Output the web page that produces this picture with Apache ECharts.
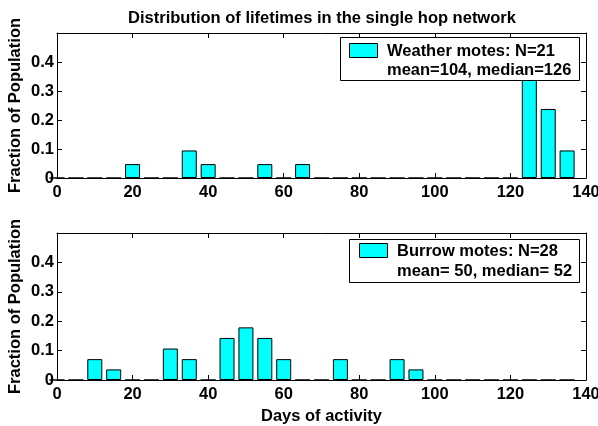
<!DOCTYPE html>
<html><head><meta charset="utf-8">
<script src="https://cdn.jsdelivr.net/npm/echarts@6/dist/echarts.min.js"></script>
<style>html,body{margin:0;padding:0;background:#fff}#c{width:598px;height:426px}</style>
</head><body><div id="c"></div>
<script>
// Bin centres (days of activity); the axis runs 0..140
const days = ['0','5','10','15','20','25','30','35','40','45','50','55','60','65','70','75','80','85','90','95','100','105','110','115','120','125','130','135','140'];
// Weather motes: fraction of population per bin (N=21); no bin at 140
const weatherFrac = [0,0,0,0,0.048,0,0,0.095,0.048,0,0,0.048,0,0.048,0,0,0,0,0,0,0,0,0,0,0,0.381,0.238,0.095,null];
// Burrow motes: fraction of population per bin (N=28); no bin at 140
const burrowFrac = [0,0,0.071,0.036,0,0,0.107,0.071,0,0.143,0.179,0.143,0.071,0,0,0.071,0,0,0.071,0.036,0,0,0,0,0,0,0,0,null];
const titleText = 'Distribution of lifetimes in the single hop network';
const yName = 'Fraction of Population';
const xName = 'Days of activity';
const legendWeather = ['Weather motes: N=21', 'mean=104, median=126'];
const legendBurrow = ['Burrow motes: N=28', 'mean= 50, median= 52'];

const FONT = "'Liberation Sans', Arial, Helvetica, sans-serif";
const FS = 16.5;
const chart = echarts.init(document.getElementById('c'));

function xAx(gi, main, withName) {
  return {
    type: 'value', gridIndex: gi, min: 0, max: 140, interval: 20,
    position: main ? 'bottom' : 'top',
    axisLine: {show: true, onZero: false, lineStyle: {color: '#000', width: 1}},
    axisTick: {show: true, inside: true, length: 5, lineStyle: {color: '#000'}},
    axisLabel: {show: main, color: '#000', fontFamily: FONT, fontWeight: 'bold', fontSize: FS, margin: 6},
    splitLine: {show: false},
    name: withName ? xName : '', nameLocation: 'middle', nameGap: 28, nameMoveOverlap: false,
    nameTextStyle: {color: '#000', fontFamily: FONT, fontWeight: 'bold', fontSize: FS}
  };
}
function xCat(gi) {
  return {
    type: 'category', gridIndex: gi, data: days, boundaryGap: false, show: false,
    position: 'bottom'
  };
}
function yAx(gi, main) {
  return {
    type: 'value', gridIndex: gi, min: 0, max: 0.5, interval: 0.1,
    position: main ? 'left' : 'right',
    axisLine: {show: true, onZero: false, lineStyle: {color: '#000', width: 1}},
    axisTick: {show: true, inside: true, length: 5, lineStyle: {color: '#000'}},
    axisLabel: {show: main, color: '#000', fontFamily: FONT, fontWeight: 'bold', fontSize: FS, margin: 3,
      formatter: v => v > 0.45 ? '' : (v === 0 ? '0' : String(+v.toFixed(1)))},
    splitLine: {show: false},
    name: main ? yName : '', nameLocation: 'middle', nameGap: 33, nameRotate: 90, nameMoveOverlap: false,
    nameTextStyle: {color: '#000', fontFamily: FONT, fontWeight: 'bold', fontSize: FS}
  };
}
function barSeries(vals, xi, yi) {
  return {
    type: 'bar', xAxisIndex: xi, yAxisIndex: yi,
    data: vals,
    barWidth: 15,
    itemStyle: {color: '#00ffff', borderColor: '#000', borderWidth: 1},
    silent: true, animation: false
  };
}
function legendBox(x, y, w, h, sx, sy, tx, ty1, ty2, lines) {
  return [
    {type: 'rect', z: 100, shape: {x: x, y: y, width: w, height: h},
     style: {fill: '#fff', stroke: '#000', lineWidth: 1}},
    {type: 'rect', z: 101, shape: {x: sx, y: sy, width: 28, height: 14},
     style: {fill: '#00ffff', stroke: '#000', lineWidth: 1}},
    {type: 'text', z: 101, x: tx, y: ty1,
     style: {text: lines[0], fill: '#000', font: 'bold ' + FS + 'px ' + FONT, textVerticalAlign: 'middle', verticalAlign: 'middle'}},
    {type: 'text', z: 101, x: tx, y: ty2,
     style: {text: lines[1], fill: '#000', font: 'bold ' + FS + 'px ' + FONT, textVerticalAlign: 'middle', verticalAlign: 'middle'}}
  ];
}

chart.setOption({
  animation: false,
  backgroundColor: '#fff',
  title: {text: titleText, left: 317, top: 5, textAlign: 'center',
    textStyle: {color: '#000', fontFamily: FONT, fontWeight: 'bold', fontSize: FS}},
  grid: [
    {left: 57, top: 33, width: 529, height: 145, outerBoundsMode: 'none', containLabel: false},
    {left: 57, top: 233, width: 529, height: 147, outerBoundsMode: 'none', containLabel: false}
  ],
  xAxis: [xAx(0, true, false), xAx(0, false, false), xAx(1, true, true), xAx(1, false, false), xCat(0), xCat(1)],
  yAxis: [yAx(0, true), yAx(0, false), yAx(1, true), yAx(1, false)],
  series: [barSeries(weatherFrac, 4, 0), barSeries(burrowFrac, 5, 2)],
  graphic: [].concat(
    legendBox(340.5, 37.5, 239, 43, 349.5, 43.5, 387, 51, 70, legendWeather),
    legendBox(349.5, 239.5, 230, 43, 359.5, 243.5, 397, 251, 271, legendBurrow)
  )
});
</script></body></html>
